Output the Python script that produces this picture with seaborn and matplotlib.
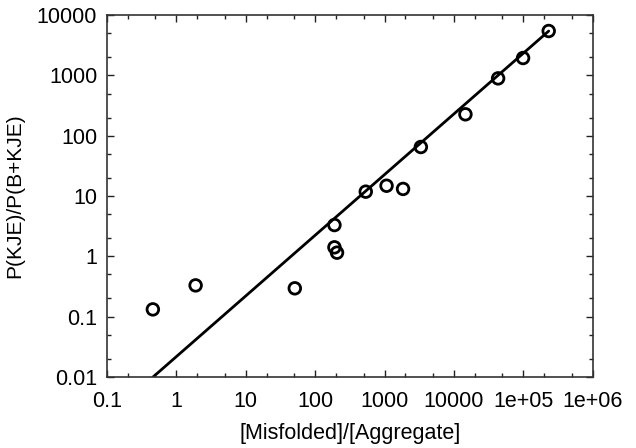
import numpy as np
import pandas as pd
import seaborn as sns
import matplotlib
matplotlib.use('Agg')
import matplotlib.pyplot as plt
from matplotlib.ticker import FixedLocator, FixedFormatter, NullFormatter

# ratio of concentrations vs. ratio of probabilities
ratio_conc = [0.46, 1.9, 51, 190, 190, 207, 537, 1070, 1850, 3340, 14650,
              43300, 99100, 232000]
ratio_prob = [0.132, 0.33, 0.295, 3.3, 1.41, 1.15, 11.8, 14.8, 13.1, 64.9, 226,
              891, 1937, 5430]

# power-law guide line y = A * x^b
fit_prefactor = 0.0217
fit_exponent = 1.006

x_ticks = [0.1, 1, 10, 100, 1000, 10000, 1e5, 1e6]
x_tick_labels = ['0.1', '1', '10', '100', '1000', '10000', '1e+05', '1e+06']
y_ticks = [0.01, 0.1, 1, 10, 100, 1000, 10000]
y_tick_labels = ['0.01', '0.1', '1', '10', '100', '1000', '10000']

df = pd.DataFrame({'x': ratio_conc, 'y': ratio_prob})

fit_x = np.geomspace(df['x'].min(), df['x'].max(), 100)
fit = pd.DataFrame({'x': fit_x, 'y': fit_prefactor * fit_x ** fit_exponent})

sns.set_style('ticks')
plt.rcParams['font.family'] = ['Liberation Sans', 'DejaVu Sans']

fig = plt.figure(figsize=(6.36, 4.48), dpi=100)
ax = fig.add_axes([0.168, 0.1585, 0.764, 0.808])

sns.lineplot(data=fit, x='x', y='y', color='black', linewidth=2, ax=ax)
sns.scatterplot(
    data=df, x='x', y='y',
    marker='o', s=70,
    facecolors='none', edgecolor='black', linewidth=2,
    ax=ax, zorder=3,
)

ax.set_xscale('log')
ax.set_yscale('log')
ax.set_xlim(0.1, 1e6)
ax.set_ylim(0.01, 10000)

minor_x = [m * 10.0 ** e for e in range(-1, 6) for m in (2, 5)]
minor_y = [m * 10.0 ** e for e in range(-2, 4) for m in (2, 5)]

ax.xaxis.set_major_locator(FixedLocator(x_ticks))
ax.xaxis.set_major_formatter(FixedFormatter(x_tick_labels))
ax.xaxis.set_minor_locator(FixedLocator(minor_x))
ax.xaxis.set_minor_formatter(NullFormatter())
ax.yaxis.set_major_locator(FixedLocator(y_ticks))
ax.yaxis.set_major_formatter(FixedFormatter(y_tick_labels))
ax.yaxis.set_minor_locator(FixedLocator(minor_y))
ax.yaxis.set_minor_formatter(NullFormatter())

ax.tick_params(which='both', direction='in', top=True, right=True,
               color='#222222', labelsize=15.5, labelcolor='black')
ax.tick_params(which='major', length=5, width=1)
ax.tick_params(which='minor', length=3, width=1)
ax.tick_params(axis='x', which='major', pad=10)
ax.tick_params(axis='y', which='major', pad=7)

for sp in ax.spines.values():
    sp.set_color('#333333')
    sp.set_linewidth(1.2)

ax.set_xlabel('[Misfolded]/[Aggregate]', fontsize=15.5, labelpad=8,
              color='black')
ax.set_ylabel('P(KJE)/P(B+KJE)', fontsize=15, labelpad=9, color='black')

fig.savefig('out.png', dpi=100)
